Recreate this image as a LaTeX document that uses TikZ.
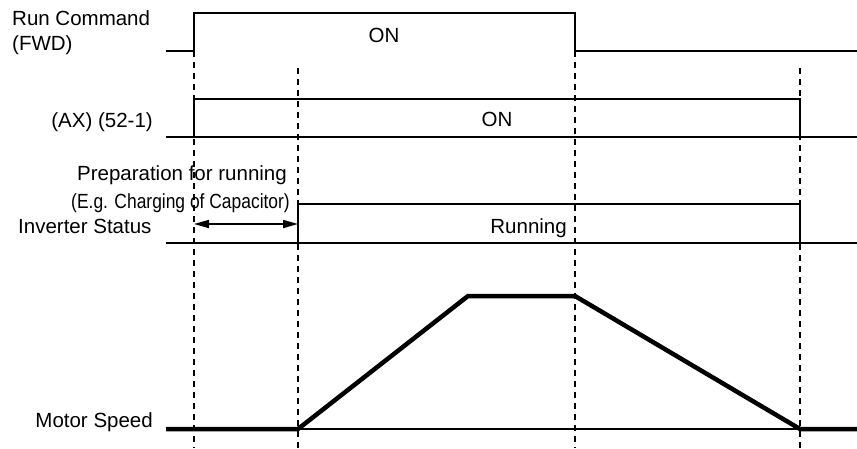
\documentclass[tikz,border=0pt]{standalone}
\usepackage{fontspec}
\setmainfont{Liberation Sans}
\newfontfamily\narrowfont[FakeStretch=0.85]{Liberation Sans}
\usetikzlibrary{positioning, arrows.meta, calc}

\begin{document}
\begin{tikzpicture}[x=1pt, y=-1pt,
    signal/.style={line width=1.7pt},
    speed/.style={line width=4.5pt},
    guide/.style={line width=1.3pt, dash pattern=on 6pt off 5pt},
    label/.style={inner sep=0pt, font=\fontsize{20.5}{24}\selectfont}]
    \useasboundingbox (0,0) rectangle (857,448);

    % time marks
    \draw[guide] (194,51) -- (194,448);
    \draw[guide] (298,68) -- (298,448);
    \draw[guide] (575,51) -- (575,448);
    \draw[guide] (800,68) -- (800,448);

    % Run Command (FWD)
    \draw[signal] (166,51) -- (194,51) -- (194,13) -- (575,13) -- (575,51) -- (857,51);
    \node[label, anchor=base west] (runlbl) at (12,25) {Run Command};
    \node[label, anchor=base west] (fwdlbl) at (12,50) {(FWD)};
    \node[label, anchor=base] (runon) at (384,42) {ON};

    % (AX) (52-1)
    \draw[signal] (166,137) -- (857,137);
    \draw[signal, line width=2.2pt] (194,137) -- (194,99) -- (800,99) -- (800,137);
    \node[label, anchor=base east] (axlbl) at (153,127) {(AX) (52-1)};
    \node[label, anchor=base] (axon) at (497,126) {ON};

    % Inverter Status
    \draw[signal] (166,243) -- (857,243);
    \draw[signal] (298,243) -- (298,204) -- (800,204) -- (800,243);
    \node[label, anchor=base east] (preplbl) at (287,180) {Preparation for running};
    \node[label, anchor=base east, font=\fontsize{20.5}{24}\narrowfont] (caplbl) at (290,208) {(E.g. Charging of Capacitor)};
    \node[label, anchor=base west] (invlbl) at (18,233) {Inverter Status};
    \node[label, anchor=base east] (runninglbl) at (567,233) {Running};
    \coordinate (prepL) at (194,224);
    \coordinate (prepR) at (298,224);
    \draw[signal, {Triangle[length=15pt,width=8pt]}-{Triangle[length=15pt,width=8pt]}] (prepL) -- (prepR);

    % Motor Speed
    \draw[line width=1.2pt] (166,429) -- (857,429);
    \draw[speed] (166,429) -- (298,429) -- (468,296) -- (575,296) -- (800,429) -- (857,429);
    \node[label, anchor=base east] (motorlbl) at (153,427) {Motor Speed};
\end{tikzpicture}
\end{document}
